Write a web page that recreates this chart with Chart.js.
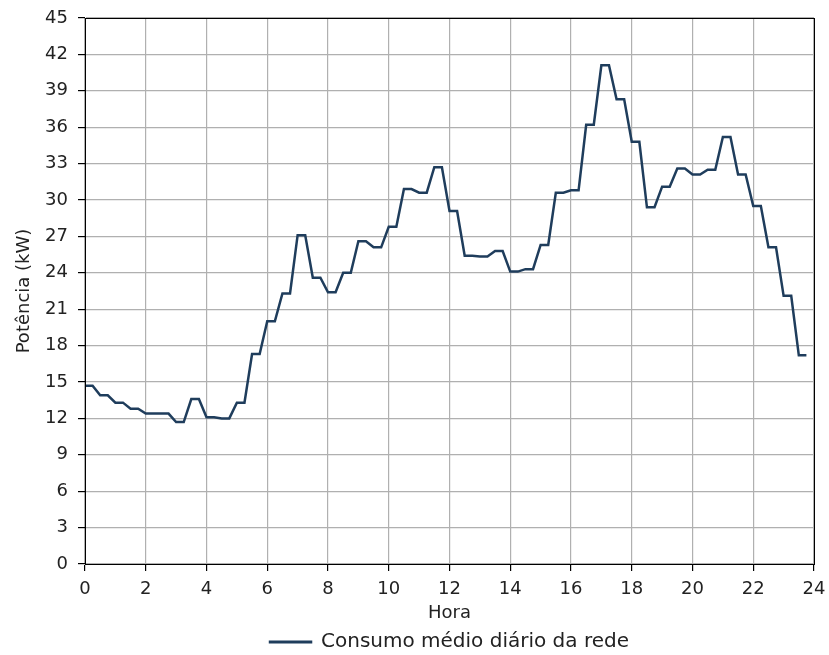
<!DOCTYPE html>
<html>
<head>
<meta charset="utf-8">
<script src="https://cdn.jsdelivr.net/npm/chart.js@4/dist/chart.umd.min.js"></script>
<style>
html,body{margin:0;padding:0;background:#fff;}
#wrap{width:829px;height:655px;overflow:hidden;}
</style>
</head>
<body>
<div id="wrap"><canvas id="c" width="829" height="655"></canvas></div>
<script>
// 15-minute timestamps (hours)
const hours = [
 0,0.25,0.5,0.75,1,1.25,1.5,1.75,2,2.25,2.5,2.75,3,3.25,3.5,3.75,
 4,4.25,4.5,4.75,5,5.25,5.5,5.75,6,6.25,6.5,6.75,7,7.25,7.5,7.75,
 8,8.25,8.5,8.75,9,9.25,9.5,9.75,10,10.25,10.5,10.75,11,11.25,11.5,11.75,
 12,12.25,12.5,12.75,13,13.25,13.5,13.75,14,14.25,14.5,14.75,15,15.25,15.5,15.75,
 16,16.25,16.5,16.75,17,17.25,17.5,17.75,18,18.25,18.5,18.75,19,19.25,19.5,19.75,
 20,20.25,20.5,20.75,21,21.25,21.5,21.75,22,22.25,22.5,22.75,23,23.25,23.5,23.75
];
// Average daily grid consumption (kW)
const consumo = [
 14.7,14.7,13.9,13.9,13.3,13.3,12.8,12.8,12.4,12.4,12.4,12.4,11.7,11.7,13.6,13.6,
 12.1,12.1,12.0,12.0,13.3,13.3,17.3,17.3,20.0,20.0,22.3,22.3,27.1,27.1,23.6,23.6,
 22.4,22.4,24.0,24.0,26.6,26.6,26.1,26.1,27.8,27.8,30.9,30.9,30.6,30.6,32.7,32.7,
 29.1,29.1,25.4,25.4,25.35,25.35,25.8,25.8,24.1,24.1,24.3,24.3,26.3,26.3,30.6,30.6,
 30.8,30.8,36.2,36.2,41.1,41.1,38.3,38.3,34.8,34.8,29.4,29.4,31.1,31.1,32.6,32.6,
 32.1,32.1,32.5,32.5,35.2,35.2,32.1,32.1,29.5,29.5,26.1,26.1,22.1,22.1,17.2,17.2
];
const seriesLabel = 'Consumo médio diário da rede';
const xTitle = 'Hora';
const yTitle = 'Potência (kW)';

const FONT = 'DejaVu Sans';
const LINE_COLOR = '#1f3d5c';

const frame = {
  id: 'frame',
  afterDatasetsDraw(chart) {
    const a = chart.chartArea, ctx = chart.ctx;
    ctx.save();
    ctx.strokeStyle = '#000';
    ctx.lineWidth = 1;
    ctx.strokeRect(Math.round(a.left) + 0.5, Math.round(a.top) + 0.5,
                   Math.round(a.right - a.left), Math.round(a.bottom - a.top));
    ctx.restore();
  }
};

new Chart(document.getElementById('c'), {
  type: 'line',
  data: {
    datasets: [{
      label: seriesLabel,
      data: hours.map((h, i) => ({x: h, y: consumo[i]})),
      borderColor: LINE_COLOR,
      backgroundColor: LINE_COLOR,
      borderWidth: 2.5,
      pointRadius: 0,
      tension: 0,
      fill: false
    }]
  },
  options: {
    responsive: false,
    animation: false,
    layout: { padding: { left: 6, right: 15, top: 18, bottom: -7 } },
    plugins: {
      legend: {
        position: 'bottom',
        fullSize: false,
        labels: {
          font: { family: FONT, size: 20 },
          color: '#222',
          boxWidth: 41,
          boxHeight: 0.5,
          padding: 1
        }
      },
      tooltip: { enabled: false }
    },
    scales: {
      x: {
        type: 'linear',
        min: 0, max: 24,
        ticks: { stepSize: 2, color: '#222', font: { family: FONT, size: 18 }, padding: 8, maxRotation: 0 },
        grid: { color: '#b0b0b0', lineWidth: 1.2, tickColor: '#000', tickLength: 7 },
        border: { color: '#000', width: 1 },
        title: { display: true, text: xTitle, color: '#222', font: { family: FONT, size: 18 }, padding: { top: 0, bottom: 7 } },
        afterFit(s) { s.height = 67; s.paddingLeft = 0; s.paddingRight = 0; }
      },
      y: {
        min: 0, max: 45,
        ticks: { stepSize: 3, color: '#222', font: { family: FONT, size: 18 }, padding: 10 },
        grid: { color: '#b0b0b0', lineWidth: 1.2, tickColor: '#000', tickLength: 7 },
        border: { color: '#000', width: 1 },
        title: { display: true, text: yTitle, color: '#222', font: { family: FONT, size: 18 }, padding: { top: 8, bottom: 0 } },
        afterFit(s) { s.width = 79; s.paddingTop = 0; s.paddingBottom = 0; }
      }
    }
  },
  plugins: [frame]
});
</script>
</body>
</html>
